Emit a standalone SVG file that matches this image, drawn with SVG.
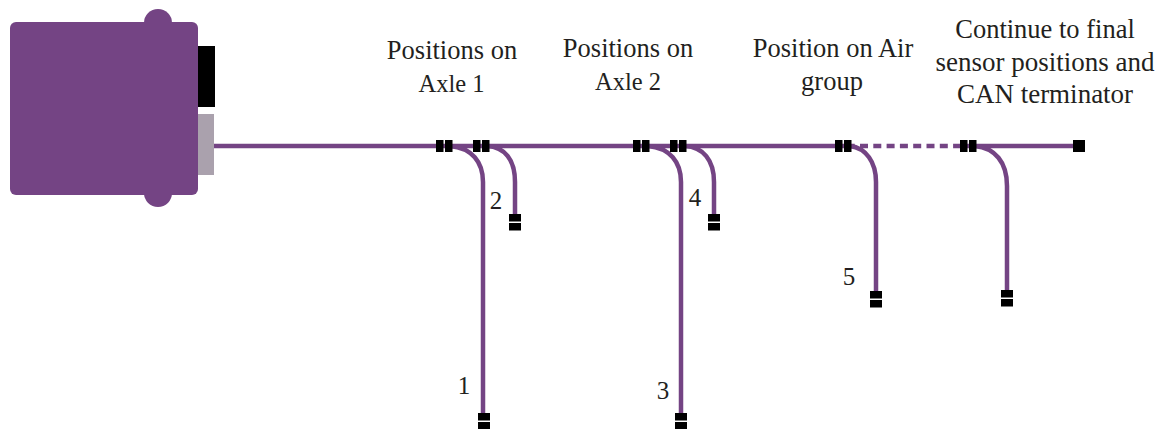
<svg xmlns="http://www.w3.org/2000/svg" width="1159" height="429" viewBox="0 0 1159 429">
<style>
.w{fill:none;stroke:#744484;stroke-width:4.5}
.b{fill:#000}
text{font-family:"Liberation Serif",serif;font-size:26.5px;fill:#231f20;text-anchor:middle}
text.n{font-size:25px}
text.a{font-size:24.5px}
</style>
<defs>
<g id="v"><rect class="b" x="-6" y="0" width="12" height="7.5"/><rect class="b" x="-6" y="9" width="12" height="7.5"/></g>
<g id="h"><rect class="b" x="0" y="-6" width="7.5" height="12"/><rect class="b" x="9" y="-6" width="7.5" height="12"/></g>
</defs>
<g id="unit">
<rect class="b" x="197" y="46" width="18" height="61"/>
<rect x="197" y="114" width="17" height="61" fill="#aaa1ad"/>
<rect x="10" y="22" width="188" height="173" rx="6" fill="#744484"/>
<rect x="144" y="9" width="28" height="198" rx="14" fill="#744484"/>
</g>
<g id="connectors">
<path class="w" d="M214 146H852"/>
<path class="w" d="M852 146H960" stroke-dasharray="8 5.3" stroke-dashoffset="-8"/>
<path class="w" d="M960 146H1079"/>
<path class="w" d="M450 146C472 148 483 162 483 182V414"/>
<path class="w" d="M487 146C505 147 515 160 515 182V215"/>
<path class="w" d="M648 146C670 148 681 162 681 182V414"/>
<path class="w" d="M685 146C703 147 714 160 714 182V215"/>
<path class="w" d="M850 146C866 148 876 162 876 182V292"/>
<path class="w" d="M975 146C995 148 1007 162 1007 186V291"/>
</g>
<g id="splice-a1-1"><use href="#h" x="436" y="146"/></g>
<g id="splice-a1-2"><use href="#h" x="473" y="146"/></g>
<g id="splice-a2-1"><use href="#h" x="633" y="146"/></g>
<g id="splice-a2-2"><use href="#h" x="670" y="146"/></g>
<g id="splice-air"><use href="#h" x="835" y="146"/></g>
<g id="splice-final"><use href="#h" x="960" y="146"/></g>
<g id="terminator"><rect class="b" x="1073" y="140" width="12" height="12"/></g>
<g id="sensor-1"><use href="#v" x="484" y="413"/><text class="n" x="464" y="394">1</text></g>
<g id="sensor-2"><use href="#v" x="515" y="214"/><text class="n" x="496" y="209">2</text></g>
<g id="sensor-3"><use href="#v" x="681" y="413"/><text class="n" x="663" y="399">3</text></g>
<g id="sensor-4"><use href="#v" x="714" y="214"/><text class="n" x="695" y="206">4</text></g>
<g id="sensor-5"><use href="#v" x="876" y="291"/><text class="n" x="849" y="285">5</text></g>
<g id="sensor-6"><use href="#v" x="1007" y="290"/></g>
<g id="label-axle1"><text x="452" y="59">Positions on</text><text class="a" x="451.500" y="92">Axle 1</text></g>
<g id="label-axle2"><text x="628" y="57">Positions on</text><text class="a" x="628" y="90">Axle 2</text></g>
<g id="label-air"><text x="833" y="57">Position on Air</text><text x="832" y="90">group</text></g>
<g id="label-final"><text x="1045" y="38">Continue to final</text><text x="1045" y="71" style="font-size:27px">sensor positions and</text><text x="1045" y="103" style="font-size:27px">CAN terminator</text></g>
</svg>
